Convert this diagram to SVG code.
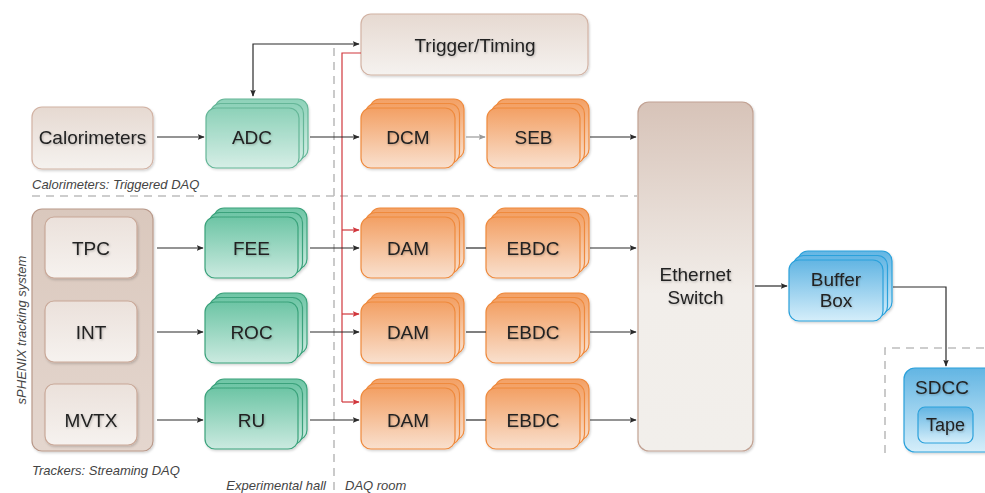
<svg xmlns="http://www.w3.org/2000/svg" width="985" height="493" viewBox="0 0 985 493">
<defs>
  <linearGradient id="gBeige" x1="0" y1="0" x2="0" y2="1"><stop offset="0" stop-color="#e6d9d1"/><stop offset="1" stop-color="#f5f2ef"/></linearGradient>
  <linearGradient id="gTrack" x1="0" y1="0" x2="0" y2="1"><stop offset="0" stop-color="#dac8bd"/><stop offset="1" stop-color="#e4d6ce"/></linearGradient>
  <linearGradient id="gInner" x1="0" y1="0" x2="0" y2="1"><stop offset="0" stop-color="#ebe1db"/><stop offset="1" stop-color="#f6f2ef"/></linearGradient>
  <linearGradient id="gSwitch" x1="0" y1="0" x2="0" y2="1"><stop offset="0" stop-color="#d7c3b8"/><stop offset="0.55" stop-color="#f2eeea"/><stop offset="1" stop-color="#f2efeb"/></linearGradient>
  <linearGradient id="gGreen" x1="0" y1="0" x2="0" y2="1"><stop offset="0" stop-color="#6dc5a5"/><stop offset="1" stop-color="#cbeae0"/></linearGradient>
  <linearGradient id="gOrange" x1="0" y1="0" x2="0" y2="1"><stop offset="0" stop-color="#f3a064"/><stop offset="1" stop-color="#f9e0ce"/></linearGradient>
  <linearGradient id="gBlue" x1="0" y1="0" x2="0" y2="1"><stop offset="0" stop-color="#62b5e3"/><stop offset="1" stop-color="#d5eefa"/></linearGradient>
  <filter id="sh" x="-10%" y="-10%" width="130%" height="130%"><feDropShadow dx="1" dy="1.5" stdDeviation="1.2" flood-color="#000" flood-opacity="0.18"/></filter>
  <filter id="tsh" x="-10%" y="-20%" width="130%" height="150%"><feDropShadow dx="0.8" dy="1" stdDeviation="0.8" flood-color="#000" flood-opacity="0.25"/></filter>
  <marker id="ah" viewBox="0 0 10 10" refX="9" refY="5" markerWidth="7" markerHeight="7" markerUnits="userSpaceOnUse" orient="auto-start-reverse"><path d="M0,1 L10,5 L0,9 L2,5 z" fill="#2b2b2b"/></marker>
  <marker id="ahg" viewBox="0 0 10 10" refX="9" refY="5" markerWidth="7" markerHeight="7" markerUnits="userSpaceOnUse" orient="auto"><path d="M0,1 L10,5 L0,9 L2,5 z" fill="#9a9a9a"/></marker>
  <marker id="ahr" viewBox="0 0 10 10" refX="9" refY="5" markerWidth="7" markerHeight="7" markerUnits="userSpaceOnUse" orient="auto"><path d="M0,1 L10,5 L0,9 L2,5 z" fill="#d0373d"/></marker>
</defs>
<style>
  .lbl{font-family:"Liberation Sans","DejaVu Sans",sans-serif;font-size:19px;fill:#222;text-anchor:middle;filter:url(#tsh)}
  .note{font-family:"Liberation Sans","DejaVu Sans",sans-serif;font-size:13px;font-style:italic;fill:#444}
  .beige{fill:url(#gBeige);stroke:#d2b3a4;stroke-width:1.2;filter:url(#sh)}
  .inner{fill:url(#gInner);stroke:#c9a898;stroke-width:1.2;filter:url(#sh)}
  .track{fill:url(#gTrack);stroke:#b9998a;stroke-width:1.2;filter:url(#sh)}
  .switch{fill:url(#gSwitch);stroke:#c2a293;stroke-width:1.2;filter:url(#sh)}
  .green{fill:url(#gGreen);stroke:#3aa27b;stroke-width:1.2}
  .orange{fill:url(#gOrange);stroke:#ef8a3d;stroke-width:1.2}
  .blue{fill:url(#gBlue);stroke:#2ba1db;stroke-width:1.2}
  .stk{filter:url(#sh)}
  .dash{fill:none;stroke:#bdbdbd;stroke-width:1.6;stroke-dasharray:8 6}
  .con{fill:none;stroke:#2b2b2b;stroke-width:1.2}
  .red{fill:none;stroke:#d0373d;stroke-width:1.2}
</style>

<!-- dashed region borders -->
<g id="regions">
  <path class="dash" d="M32 196 H637"/>
  <path class="dash" d="M334 48 V493"/>
  <path class="dash" d="M885 453 V348 H985"/>
</g>

<g id="trigger"><rect class="beige" x="361" y="14" width="227" height="61" rx="10"/><text class="lbl" x="475" y="52">Trigger/Timing</text></g>
<g id="calorimeters"><rect class="beige" x="32" y="107" width="121" height="62" rx="10"/><text class="lbl" x="92.5" y="144">Calorimeters</text></g>

<g id="trackers">
  <rect class="track" x="32" y="209" width="121" height="242" rx="10"/>
  <g id="tpc"><rect class="inner" x="45" y="217" width="92" height="61" rx="9"/><text class="lbl" x="91" y="255">TPC</text></g>
  <g id="int"><rect class="inner" x="45" y="301" width="92" height="61" rx="9"/><text class="lbl" x="91" y="339">INT</text></g>
  <g id="mvtx"><rect class="inner" x="45" y="384" width="92" height="61" rx="9"/><text class="lbl" x="91" y="427">MVTX</text></g>
</g>

<g id="adc">
  <g class="stk" opacity="0.78">
    <rect class="green" x="215" y="99" width="93" height="60" rx="10"/>
    <rect class="green" x="210.5" y="103.5" width="93" height="60" rx="10"/>
    <rect class="green" x="206" y="108" width="93" height="60" rx="10"/>
  </g>
  <text class="lbl" x="252" y="144">ADC</text>
</g>
<g id="fee" class="stk">
  <rect class="green" x="214" y="208" width="93" height="61" rx="10"/>
  <rect class="green" x="209.5" y="212.5" width="93" height="61" rx="10"/>
  <rect class="green" x="205" y="217" width="93" height="61" rx="10"/>
  <text class="lbl" x="251.5" y="255">FEE</text>
</g>
<g id="roc" class="stk">
  <rect class="green" x="214" y="293" width="93" height="61" rx="10"/>
  <rect class="green" x="209.5" y="297.5" width="93" height="61" rx="10"/>
  <rect class="green" x="205" y="302" width="93" height="61" rx="10"/>
  <text class="lbl" x="251.5" y="339">ROC</text>
</g>
<g id="ru" class="stk">
  <rect class="green" x="214" y="379" width="93" height="61" rx="10"/>
  <rect class="green" x="209.5" y="383.5" width="93" height="61" rx="10"/>
  <rect class="green" x="205" y="388" width="93" height="61" rx="10"/>
  <text class="lbl" x="251.5" y="427">RU</text>
</g>

<g id="dcm" class="stk">
  <rect class="orange" x="370" y="99" width="94" height="60" rx="10"/>
  <rect class="orange" x="365.5" y="103.5" width="94" height="60" rx="10"/>
  <rect class="orange" x="361" y="108" width="94" height="60" rx="10"/>
  <text class="lbl" x="408" y="144">DCM</text>
</g>
<g id="seb" class="stk">
  <rect class="orange" x="496" y="99" width="93" height="60" rx="10"/>
  <rect class="orange" x="491.5" y="103.5" width="93" height="60" rx="10"/>
  <rect class="orange" x="487" y="108" width="93" height="60" rx="10"/>
  <text class="lbl" x="533.5" y="144">SEB</text>
</g>

<g id="dam1" class="stk">
  <rect class="orange" x="370" y="208" width="94" height="61" rx="10"/>
  <rect class="orange" x="365.5" y="212.5" width="94" height="61" rx="10"/>
  <rect class="orange" x="361" y="217" width="94" height="61" rx="10"/>
  <text class="lbl" x="408" y="255">DAM</text>
</g>
<g id="dam2" class="stk">
  <rect class="orange" x="370" y="293" width="94" height="61" rx="10"/>
  <rect class="orange" x="365.5" y="297.5" width="94" height="61" rx="10"/>
  <rect class="orange" x="361" y="302" width="94" height="61" rx="10"/>
  <text class="lbl" x="408" y="339">DAM</text>
</g>
<g id="dam3" class="stk">
  <rect class="orange" x="370" y="379" width="94" height="61" rx="10"/>
  <rect class="orange" x="365.5" y="383.5" width="94" height="61" rx="10"/>
  <rect class="orange" x="361" y="388" width="94" height="61" rx="10"/>
  <text class="lbl" x="408" y="427">DAM</text>
</g>

<g id="ebdc1" class="stk">
  <rect class="orange" x="495" y="208" width="94" height="61" rx="10"/>
  <rect class="orange" x="490.5" y="212.5" width="94" height="61" rx="10"/>
  <rect class="orange" x="486" y="217" width="94" height="61" rx="10"/>
  <text class="lbl" x="533" y="255">EBDC</text>
</g>
<g id="ebdc2" class="stk">
  <rect class="orange" x="495" y="293" width="94" height="61" rx="10"/>
  <rect class="orange" x="490.5" y="297.5" width="94" height="61" rx="10"/>
  <rect class="orange" x="486" y="302" width="94" height="61" rx="10"/>
  <text class="lbl" x="533" y="339">EBDC</text>
</g>
<g id="ebdc3" class="stk">
  <rect class="orange" x="495" y="379" width="94" height="61" rx="10"/>
  <rect class="orange" x="490.5" y="383.5" width="94" height="61" rx="10"/>
  <rect class="orange" x="486" y="388" width="94" height="61" rx="10"/>
  <text class="lbl" x="533" y="427">EBDC</text>
</g>

<g id="ethernet-switch">
  <rect class="switch" x="638" y="102" width="115" height="349" rx="11"/>
  <text class="lbl" x="695.5" y="281">Ethernet</text>
  <text class="lbl" x="695.5" y="304">Switch</text>
</g>

<g id="buffer-box" class="stk">
  <rect class="blue" x="798" y="251" width="94" height="61" rx="10"/>
  <rect class="blue" x="793.5" y="255.5" width="94" height="61" rx="10"/>
  <rect class="blue" x="789" y="260" width="94" height="61" rx="10"/>
  <text class="lbl" x="836" y="286">Buffer</text>
  <text class="lbl" x="836" y="307">Box</text>
</g>

<g id="sdcc" class="stk">
  <rect class="blue" x="904" y="368" width="95" height="84" rx="11"/>
  <text class="lbl" x="942" y="394">SDCC</text>
  <g id="tape"><rect class="blue" x="918" y="407" width="55" height="36" rx="7"/><text class="lbl" x="945.5" y="431" style="font-size:18px">Tape</text></g>
</g>

<g id="connectors">
  <path class="con" d="M253 96 V44 H359" marker-start="url(#ah)" marker-end="url(#ah)"/>
  <path class="red" d="M361 53 H342 V402"/>
  <path class="red" d="M342 230 H359" marker-end="url(#ahr)"/>
  <path class="red" d="M342 314 H359" marker-end="url(#ahr)"/>
  <path class="red" d="M342 402 H359" marker-end="url(#ahr)"/>
  <path class="con" d="M157 137 H204" marker-end="url(#ah)"/>
  <path class="con" d="M310 137 H359" marker-end="url(#ah)"/>
  <path fill="none" stroke="#9a9a9a" stroke-width="1.2" d="M466 137 H485" marker-end="url(#ahg)"/>
  <path class="con" d="M590 137 H636" marker-end="url(#ah)"/>
  <path class="con" d="M157 248 H203" marker-end="url(#ah)"/>
  <path class="con" d="M157 332 H203" marker-end="url(#ah)"/>
  <path class="con" d="M157 420 H203" marker-end="url(#ah)"/>
  <path class="con" d="M310 248 H359" marker-end="url(#ah)"/>
  <path class="con" d="M310 332 H359" marker-end="url(#ah)"/>
  <path class="con" d="M310 420 H359" marker-end="url(#ah)"/>
  <path class="con" d="M466 248 H486"/>
  <path class="con" d="M466 332 H486"/>
  <path class="con" d="M466 420 H486"/>
  <path class="con" d="M590 248 H636" marker-end="url(#ah)"/>
  <path class="con" d="M590 332 H636" marker-end="url(#ah)"/>
  <path class="con" d="M590 420 H636" marker-end="url(#ah)"/>
  <path class="con" d="M755 286 H787" marker-end="url(#ah)"/>
  <path class="con" d="M893 287 H946 V366" marker-end="url(#ah)"/>
</g>

<g id="notes">
  <text class="note" x="32" y="189">Calorimeters: Triggered DAQ</text>
  <text class="note" x="32" y="475">Trackers: Streaming DAQ</text>
  <text class="note" x="326" y="490" text-anchor="end">Experimental hall</text>
  <text class="note" x="345" y="490">DAQ room</text>
  <text class="note" x="0" y="0" text-anchor="middle" transform="translate(26 330) rotate(-90)">sPHENIX tracking system</text>
</g>
</svg>
